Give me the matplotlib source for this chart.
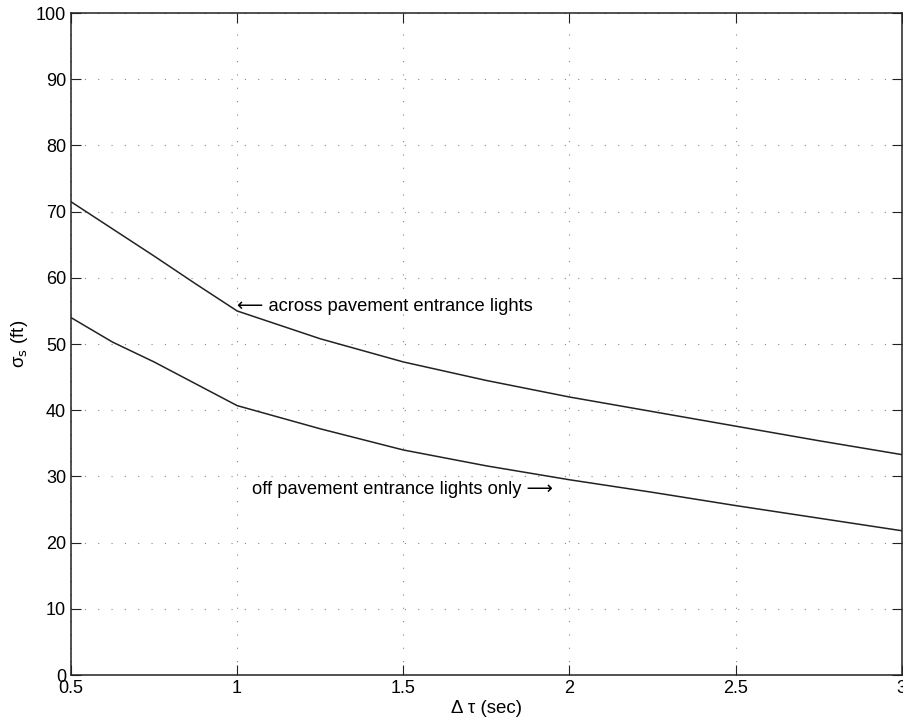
import numpy as np
import matplotlib.pyplot as plt

plt.rcParams['font.family'] = ['Liberation Sans', 'DejaVu Sans']

# data
dtau = [0.5, 0.625, 0.75, 0.875, 1.0, 1.25, 1.5, 1.75, 2.0, 2.25, 2.5, 2.75, 3.0]
across = [71.5, 67.4, 63.3, 59.1, 55.0, 50.8, 47.3, 44.5, 42.0, 39.8, 37.6, 35.4, 33.3]
off_only = [54.0, 50.3, 47.3, 44.0, 40.7, 37.2, 34.0, 31.6, 29.5, 27.6, 25.6, 23.7, 21.8]

xticks = [0.5, 1, 1.5, 2, 2.5, 3]
xticklabels = ['0.5', '1', '1.5', '2', '2.5', '3']
yticks = list(range(0, 101, 10))

fig = plt.figure(figsize=(9.04, 7.27), dpi=100)
ax = fig.add_axes([0.0785, 0.0715, 0.919, 0.9105])

ax.plot(dtau, across, color='#222222', lw=1.1)
ax.plot(dtau, off_only, color='#222222', lw=1.1)

ax.set_xlim(0.5, 3)
ax.set_ylim(0, 100)
ax.set_xticks(xticks)
ax.set_xticklabels(xticklabels)
ax.set_yticks(yticks)
ax.tick_params(direction='in', top=True, right=True, length=7, labelsize=13, color='#222222')
for s in ax.spines.values():
    s.set_color('#222222')
    s.set_linewidth(1.1)

# sparse dotted grid like the scanned original
ax.grid(True, color='#888888', linestyle=(0, (1, 11)), linewidth=0.8)

ax.text(1.0, 55.6, '\u27f5 across pavement entrance lights', fontsize=13.2, va='center', ha='left')
ax.text(1.045, 28.0, 'off pavement entrance lights only \u27f6', fontsize=13.2, va='center', ha='left')

ax.set_xlabel('\u0394 \u03c4 (sec)', fontsize=13.5, labelpad=2)
ax.set_ylabel('\u03c3$_{\\rm s}$ (ft)', fontsize=13.5, labelpad=4)

fig.savefig('out.png', dpi=100)
